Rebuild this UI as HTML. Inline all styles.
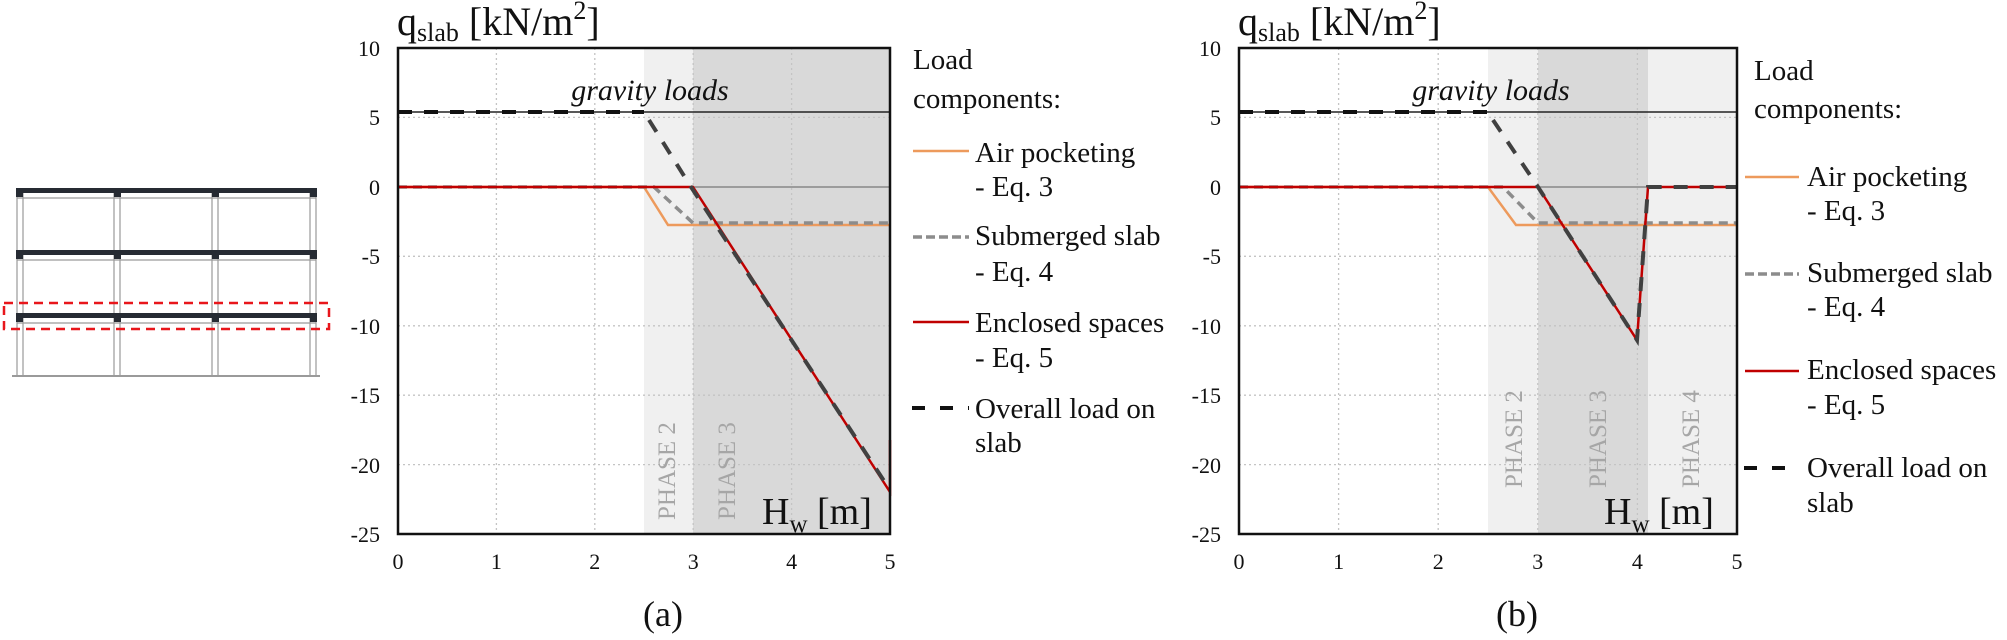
<!DOCTYPE html>
<html><head><meta charset="utf-8"><style>
html,body{margin:0;padding:0;background:#fff;}
svg{display:block;}
svg text{font-family:"Liberation Serif","Times New Roman","DejaVu Serif",serif;}
</style></head><body>
<svg width="2007" height="640" viewBox="0 0 2007 640" xmlns="http://www.w3.org/2000/svg" font-family="Liberation Serif, Times New Roman, DejaVu Serif, serif">
<!-- frame drawing -->
<g>
 <g stroke="#9a9a9a" stroke-width="1.2" fill="none">
  <line x1="17" y1="190" x2="17" y2="376"/><line x1="23" y1="190" x2="23" y2="376"/>
  <line x1="114" y1="190" x2="114" y2="376"/><line x1="120" y1="190" x2="120" y2="376"/>
  <line x1="212" y1="190" x2="212" y2="376"/><line x1="218" y1="190" x2="218" y2="376"/>
  <line x1="310" y1="190" x2="310" y2="376"/><line x1="316" y1="190" x2="316" y2="376"/>
  <line x1="17" y1="198" x2="316" y2="198"/><line x1="17" y1="260" x2="316" y2="260"/><line x1="17" y1="323" x2="316" y2="323"/>
  <line x1="12" y1="376" x2="320" y2="376" stroke-width="2"/>
 </g>
 <g fill="#262b33">
  <rect x="16" y="188" width="301" height="5"/><rect x="16" y="250" width="301" height="5"/><rect x="16" y="313" width="301" height="5"/>
  <rect x="16" y="188" width="7" height="9"/><rect x="114" y="188" width="7" height="9"/><rect x="212" y="188" width="7" height="9"/><rect x="310" y="188" width="7" height="9"/>
  <rect x="16" y="250" width="7" height="9"/><rect x="114" y="250" width="7" height="9"/><rect x="212" y="250" width="7" height="9"/><rect x="310" y="250" width="7" height="9"/>
  <rect x="16" y="313" width="7" height="9"/><rect x="114" y="313" width="7" height="9"/><rect x="212" y="313" width="7" height="9"/><rect x="310" y="313" width="7" height="9"/>
 </g>
 <rect x="4" y="303" width="325" height="26" fill="none" stroke="#e8161b" stroke-width="2.5" stroke-dasharray="9,6"/>
</g>

<!-- ===== PLOT A ===== -->
<g>
 <rect x="644" y="48" width="49" height="486" fill="#f0f0f0"/>
 <rect x="693" y="48" width="197" height="486" fill="#d9d9d9"/>
 <g stroke="#c4c4c4" stroke-width="1.3" stroke-dasharray="2,3">
  <line x1="496.4" y1="48" x2="496.4" y2="534"/><line x1="594.8" y1="48" x2="594.8" y2="534"/>
  <line x1="693.2" y1="48" x2="693.2" y2="534"/><line x1="791.6" y1="48" x2="791.6" y2="534"/>
  <line x1="398" y1="117.4" x2="890" y2="117.4"/><line x1="398" y1="256.3" x2="890" y2="256.3"/>
  <line x1="398" y1="325.8" x2="890" y2="325.8"/><line x1="398" y1="395.2" x2="890" y2="395.2"/>
  <line x1="398" y1="464.6" x2="890" y2="464.6"/>
 </g>
 <line x1="398" y1="112" x2="890" y2="112" stroke="#222" stroke-width="1.5"/>
 <line x1="398" y1="187" x2="890" y2="187" stroke="#888" stroke-width="1.5"/>
 <g font-size="25" fill="#a6a6a6">
  <text transform="translate(675,520) rotate(-90)">PHASE 2</text>
  <text transform="translate(735,520) rotate(-90)">PHASE 3</text>
 </g>
 <text x="650" y="100" font-size="30" font-style="italic" text-anchor="middle" fill="#111">gravity loads</text>
 <polyline points="398,187 644,187 668,225 890,225" fill="none" stroke="#ed9a5c" stroke-width="2.5"/>
 <polyline points="398,187 654,187 693,223 890,223" fill="none" stroke="#8c8c8c" stroke-width="3.5" stroke-dasharray="9,6"/>
 <polyline points="398,187 693,187 890,492 890,440" fill="none" stroke="#c00000" stroke-width="2.5"/>
 <line x1="398" y1="112" x2="644" y2="112" stroke="#111" stroke-width="4" stroke-dasharray="14,12"/>
 <polyline points="649,120 691,187 890,490" fill="none" stroke="#404040" stroke-width="4" stroke-dasharray="14,12"/>
 <rect x="398" y="48" width="492" height="486" fill="none" stroke="#111" stroke-width="2.5"/>
 <text x="762" y="524" font-size="38" fill="#111">H<tspan font-size="25" dy="8">w</tspan><tspan dy="-8"> [m]</tspan></text>
 <text x="397" y="35" font-size="40" fill="#111">q<tspan font-size="26" dy="6">slab</tspan><tspan dy="-6"> [kN/m</tspan><tspan font-size="26" dy="-16">2</tspan><tspan dy="16">]</tspan></text>
 <g font-size="22" text-anchor="end" fill="#111">
  <text x="380" y="56">10</text><text x="380" y="125">5</text><text x="380" y="195">0</text>
  <text x="380" y="264">-5</text><text x="380" y="334">-10</text><text x="380" y="403">-15</text>
  <text x="380" y="473">-20</text><text x="380" y="542">-25</text>
 </g>
 <g font-size="22" text-anchor="middle" fill="#111">
  <text x="398" y="569">0</text><text x="496.4" y="569">1</text><text x="594.8" y="569">2</text>
  <text x="693.2" y="569">3</text><text x="791.6" y="569">4</text><text x="890" y="569">5</text>
 </g>
 <text x="663" y="626" font-size="36" text-anchor="middle" fill="#111">(a)</text>
 <g font-size="29" fill="#111">
  <text x="913" y="69">Load</text><text x="913" y="108">components:</text>
  <text x="975" y="162">Air pocketing</text><text x="975" y="196">- Eq. 3</text>
  <text x="975" y="245">Submerged slab</text><text x="975" y="281">- Eq. 4</text>
  <text x="975" y="332">Enclosed spaces</text><text x="975" y="367">- Eq. 5</text>
  <text x="975" y="418">Overall load on</text><text x="975" y="452">slab</text>
 </g>
 <line x1="913" y1="151" x2="969" y2="151" stroke="#ed9a5c" stroke-width="2.5"/>
 <line x1="913" y1="237" x2="969" y2="237" stroke="#8c8c8c" stroke-width="3.5" stroke-dasharray="9,4"/>
 <line x1="913" y1="322" x2="969" y2="322" stroke="#c00000" stroke-width="2.5"/>
 <line x1="912" y1="408" x2="969" y2="408" stroke="#111" stroke-width="4" stroke-dasharray="13,15"/>
</g>

<!-- ===== PLOT B ===== -->
<g>
 <rect x="1488" y="48" width="50" height="486" fill="#f0f0f0"/>
 <rect x="1538" y="48" width="110" height="486" fill="#d9d9d9"/>
 <rect x="1648" y="48" width="89" height="486" fill="#f0f0f0"/>
 <g stroke="#c4c4c4" stroke-width="1.3" stroke-dasharray="2,3">
  <line x1="1338.6" y1="48" x2="1338.6" y2="534"/><line x1="1438.2" y1="48" x2="1438.2" y2="534"/>
  <line x1="1537.8" y1="48" x2="1537.8" y2="534"/><line x1="1637.4" y1="48" x2="1637.4" y2="534"/>
  <line x1="1239" y1="117.4" x2="1737" y2="117.4"/><line x1="1239" y1="256.3" x2="1737" y2="256.3"/>
  <line x1="1239" y1="325.8" x2="1737" y2="325.8"/><line x1="1239" y1="395.2" x2="1737" y2="395.2"/>
  <line x1="1239" y1="464.6" x2="1737" y2="464.6"/>
 </g>
 <line x1="1239" y1="112" x2="1737" y2="112" stroke="#222" stroke-width="1.5"/>
 <line x1="1239" y1="187" x2="1737" y2="187" stroke="#888" stroke-width="1.5"/>
 <g font-size="25" fill="#a6a6a6">
  <text transform="translate(1522,488) rotate(-90)">PHASE 2</text>
  <text transform="translate(1606,488) rotate(-90)">PHASE 3</text>
  <text transform="translate(1699,488) rotate(-90)">PHASE 4</text>
 </g>
 <text x="1491" y="100" font-size="30" font-style="italic" text-anchor="middle" fill="#111">gravity loads</text>
 <polyline points="1239,187 1488,187 1516,225 1737,225" fill="none" stroke="#ed9a5c" stroke-width="2.5"/>
 <polyline points="1239,187 1503,187 1538,223 1737,223" fill="none" stroke="#8c8c8c" stroke-width="3.5" stroke-dasharray="9,6"/>
 <polyline points="1239,187 1538,187 1637,340 1648,187 1737,187" fill="none" stroke="#c00000" stroke-width="2.5"/>
 <line x1="1239" y1="112" x2="1488" y2="112" stroke="#111" stroke-width="4" stroke-dasharray="14,12"/>
 <polyline points="1493,120 1538,187 1637,340 1648,187 1737,187" fill="none" stroke="#404040" stroke-width="4" stroke-dasharray="14,12"/>
 <rect x="1239" y="48" width="498" height="486" fill="none" stroke="#111" stroke-width="2.5"/>
 <text x="1604" y="524" font-size="38" fill="#111">H<tspan font-size="25" dy="8">w</tspan><tspan dy="-8"> [m]</tspan></text>
 <text x="1238" y="35" font-size="40" fill="#111">q<tspan font-size="26" dy="6">slab</tspan><tspan dy="-6"> [kN/m</tspan><tspan font-size="26" dy="-16">2</tspan><tspan dy="16">]</tspan></text>
 <g font-size="22" text-anchor="end" fill="#111">
  <text x="1221" y="56">10</text><text x="1221" y="125">5</text><text x="1221" y="195">0</text>
  <text x="1221" y="264">-5</text><text x="1221" y="334">-10</text><text x="1221" y="403">-15</text>
  <text x="1221" y="473">-20</text><text x="1221" y="542">-25</text>
 </g>
 <g font-size="22" text-anchor="middle" fill="#111">
  <text x="1239" y="569">0</text><text x="1338.6" y="569">1</text><text x="1438.2" y="569">2</text>
  <text x="1537.8" y="569">3</text><text x="1637.4" y="569">4</text><text x="1737" y="569">5</text>
 </g>
 <text x="1517" y="626" font-size="36" text-anchor="middle" fill="#111">(b)</text>
 <g font-size="29" fill="#111">
  <text x="1754" y="80">Load</text><text x="1754" y="118">components:</text>
  <text x="1807" y="186">Air pocketing</text><text x="1807" y="220">- Eq. 3</text>
  <text x="1807" y="282">Submerged slab</text><text x="1807" y="316">- Eq. 4</text>
  <text x="1807" y="379">Enclosed spaces</text><text x="1807" y="414">- Eq. 5</text>
  <text x="1807" y="477">Overall load on</text><text x="1807" y="512">slab</text>
 </g>
 <line x1="1745" y1="177" x2="1799" y2="177" stroke="#ed9a5c" stroke-width="2.5"/>
 <line x1="1745" y1="274" x2="1799" y2="274" stroke="#8c8c8c" stroke-width="3.5" stroke-dasharray="9,4"/>
 <line x1="1745" y1="371" x2="1799" y2="371" stroke="#c00000" stroke-width="2.5"/>
 <line x1="1744" y1="468" x2="1799" y2="468" stroke="#111" stroke-width="4" stroke-dasharray="13,15"/>
</g>
</svg>
</body></html>
